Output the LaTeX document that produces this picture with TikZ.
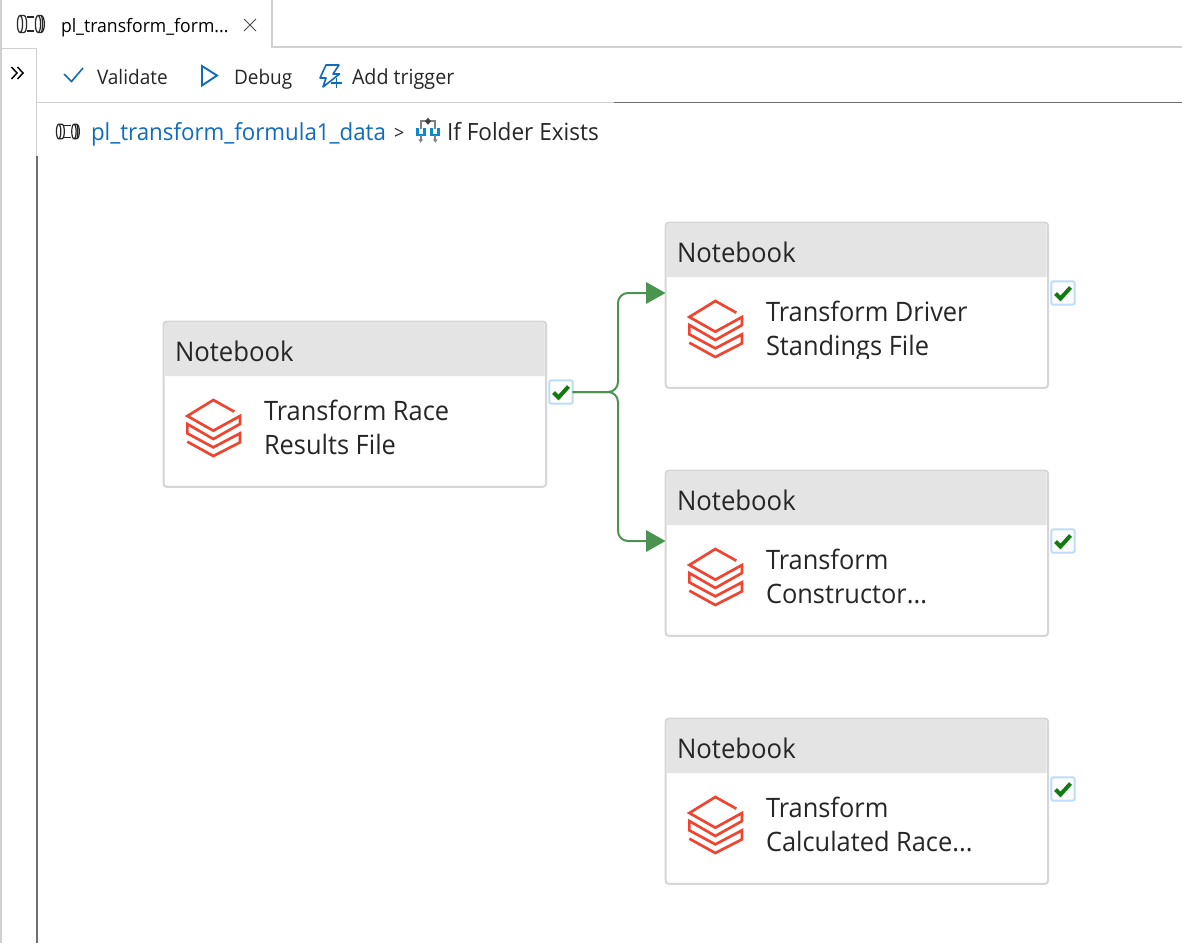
\documentclass[tikz,border=0pt]{standalone}
\usepackage{fontspec}
\setmainfont[FakeStretch=0.95]{Open Sans}
\usetikzlibrary{arrows.meta}
\definecolor{ink}{HTML}{262626}
\definecolor{azure}{HTML}{0F6CBD}
\definecolor{rule}{HTML}{D0D0D0}
\definecolor{cardline}{HTML}{D6D6D6}
\definecolor{head}{HTML}{E4E4E4}
\definecolor{flow}{HTML}{4A9350}
\definecolor{okgreen}{HTML}{107C10}
\definecolor{okbox}{HTML}{BBDDF8}
\definecolor{brick}{HTML}{EF4530}
\definecolor{darkrule}{HTML}{6E6E6E}
\tikzset{
  x=0.75pt,y=-0.75pt,
  lbl/.style={anchor=base west,inner sep=0pt,outer sep=0pt,text=ink},
  tabt/.style={lbl,text=black,font=\fontsize{13.9pt}{16pt}\selectfont},
  toolt/.style={lbl,font=\fontsize{15pt}{18pt}\selectfont},
  crumb/.style={lbl,font=\fontsize{18pt}{22pt}\selectfont},
  headt/.style={lbl,font=\fontsize{20.3pt}{24pt}\selectfont},
  bodyt/.style={lbl,font=\fontsize{20.05pt}{24pt}\selectfont},
  card/.style={rectangle,draw=cardline,line width=1.5pt,fill=white,rounded corners=2.5pt,
    minimum width=287pt,minimum height=124pt,inner sep=0pt,outer sep=0pt,anchor=north west},
  okmark/.style={rectangle,draw=okbox,line width=1.5pt,fill=white,rounded corners=1.5pt,
    minimum width=17.5pt,minimum height=17.5pt,inner sep=0pt,outer sep=0pt},
  link/.style={draw=flow,line width=1.5pt,rounded corners=7.5pt,
    -{Triangle[length=14.5pt,width=16pt,fill=flow]}},
  logo/.style={draw=brick,line width=2pt,miter limit=4},
  pipe/.style={draw=black!85,line width=0.9pt},
}
\newcommand{\pipeicon}[2]{%
  \begin{scope}[shift={#1},scale=#2,pipe]
    \draw (-11,0) ellipse[x radius=2.6,y radius=8.5];
    \draw (-11,-8.5) -- (-7,-8.5) .. controls (-3.5,-8.5) and (-3.5,8.5) .. (-7,8.5) -- (-11,8.5);
    \draw (-4.5,-7) -- (3,-7) (-4.5,7) -- (3,7);
    \draw (7,0) ellipse[x radius=2.6,y radius=8.5];
    \draw (7,-8.5) -- (10,-8.5) .. controls (14.5,-8.5) and (14.5,8.5) .. (10,8.5) -- (7,8.5);
    \draw (10,-8.5) .. controls (12,-8.5) and (12,8.5) .. (10,8.5);
  \end{scope}}
\newcommand{\notebook}[6]{% name, x, y, check-name, line 1, line 2
  \node[card] (#1) at (#2+0.5,#3+0.5) {};
  \begin{scope}[shift={(#2,#3)}]
    \fill[head] (1.5,55) -- (1.5,3.5) .. controls (1.5,2.2) and (2.2,1.5) .. (3.5,1.5) -- (379.5,1.5)
       .. controls (380.8,1.5) and (381.5,2.2) .. (381.5,3.5) -- (381.5,55) -- cycle;
    \node[headt] (#1h) at (12,40) {Notebook};
    \node[bodyt] (#1a) at (101,99.5) {#5};
    \begin{scope}
      \clip (90,104) rectangle (380,136.5);
      \node[bodyt] (#1b) at (101,133.5) {#6};
    \end{scope}
    \begin{scope}[shift={(17,73)},x=0.25pt,y=-0.25pt]
      \draw[logo] (163,53) -- (100,18) -- (22,66) -- (100,110) -- (180,66) -- (180,90) -- (100,135)
        -- (22,90) -- (22,118) -- (100,160) -- (180,118) -- (180,145) -- (100,186) -- (22,143);
    \end{scope}
    \node[okmark] (#4) at (398,71) {};
    \draw[okgreen,line width=3pt] ([shift={(-7.5,0.5)}]#4.center) -- ([shift={(-2.5,5.5)}]#4.center) -- ([shift={(7.5,-5.5)}]#4.center);
  \end{scope}}
\begin{document}
\begin{tikzpicture}
\useasboundingbox (0,0) rectangle (1182,943);
\fill[white] (0,0) rectangle (1182,943);
% chrome
\draw[rule,line width=1.5pt] (0.5,0) -- (0.5,943);
\draw[rule,line width=1.5pt] (271.5,0) -- (271.5,47) -- (1182,47);
\draw[rule,line width=1pt] (0,48.5) -- (36.5,48.5) -- (36.5,156);
\draw[darkrule,line width=1pt] (37,156) -- (37,943);
\draw[rule,line width=1pt] (37,102.5) -- (614,102.5);
\draw[darkrule,line width=1pt] (614,102.5) -- (1182,102.5);
% tab
\pipeicon{(31,24)}{1}
\node[tabt] (tab) at (61,32) {pl\_transform\_form...};
\draw[black!70,line width=0.6pt] (244,19) -- (256,31) (256,19) -- (244,31);
\draw[black,line width=1.1pt] (11.5,67) -- (17,73) -- (11.5,79) (17.5,67) -- (23,73) -- (17.5,79);
% toolbar
\draw[azure,line width=1.2pt] (64,74) -- (71.5,81.5) -- (83,68);
\node[toolt] (val) at (97,84) {Validate};
\draw[azure,line width=1.4pt,line join=miter] (202,66) -- (217,75.5) -- (202,85.5) -- cycle;
\node[toolt] (dbg) at (234,84) {Debug};
\draw[azure,line width=1.2pt,line join=round] (326,65) -- (339,65) -- (333,74) -- (339.5,74) -- (323,87) -- (326,78) -- (320,78) -- cycle;
\draw[azure,line width=1.2pt] (331,83) -- (342,83) (336.5,78) -- (336.5,88);
\node[toolt,font=\fontsize{15.55pt}{18pt}\selectfont] (add) at (352,84) {Add trigger};
% breadcrumb
\pipeicon{(68,131.5)}{0.85}
\node[crumb,text=azure,font=\fontsize{17.6pt}{22pt}\selectfont] (crumb) at (91,140) {pl\_transform\_formula1\_data};
\node[lbl,font=\fontsize{14pt}{18pt}\selectfont] (gt) at (394,139) {>};
\begin{scope}[shift={(410,112)},x=0.25pt,y=-0.25pt]
  \draw[gray,line width=1.3pt] (54,28) -- (32,28) -- (32,50) (54,28) -- (76,28) -- (76,50);
  \fill[black!75] (54,17) -- (63,28) -- (54,38) -- (45,28) -- cycle;
  \draw[azure!80!cyan,line width=2pt] (22,47) -- (22,69) -- (43,69) -- (43,47);
  \draw[azure!80!cyan,line width=2pt] (65,47) -- (65,69) -- (86,69) -- (86,47);
  \draw[gray,line width=1.3pt] (32,68) -- (32,88) (76,68) -- (76,88);
  \fill[gray] (25,82) -- (39,82) -- (32,92) -- cycle;
  \fill[gray] (69,82) -- (83,82) -- (76,92) -- cycle;
\end{scope}
\node[crumb,font=\fontsize{17.8pt}{22pt}\selectfont] (folder) at (447,140) {If Folder Exists};
% cards
\notebook{race}{163}{321}{okrace}{Transform Race}{Results File}
\notebook{driver}{665}{222}{okdriver}{Transform Driver}{Standings File}
\notebook{ctor}{665}{470}{okctor}{Transform}{Constructor...}
\notebook{calc}{665}{718}{okcalc}{Transform}{Calculated Race...}
% connectors
\coordinate (bus) at (618,440);
\draw[link] (okrace.east) -| (bus |- okdriver) -- (driver.west |- okdriver);
\draw[link] (okrace.east) -| (bus |- okctor) -- (ctor.west |- okctor);
\end{tikzpicture}
\end{document}
